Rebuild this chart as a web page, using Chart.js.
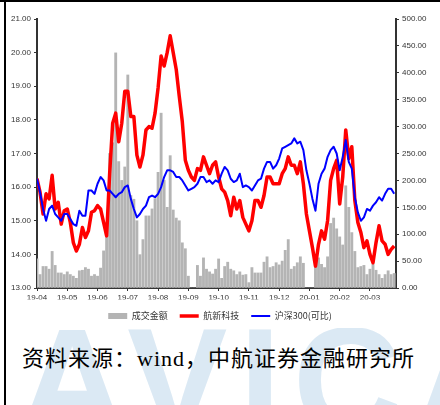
<!DOCTYPE html>
<html>
<head>
<meta charset="utf-8">
<script src="https://cdn.jsdelivr.net/npm/chart.js@4.4.0/dist/chart.umd.min.js"></script>
<style>
    html, body { margin: 0; padding: 0; background: #fff; }
    #page { position: relative; width: 440px; height: 405px; overflow: hidden; background: #fff; }
    #mark { position: absolute; left: 18px; top: 306px; font: bold 150px 'Liberation Sans', sans-serif;
            color: #dbe9f4; letter-spacing: 12px; line-height: 1; white-space: nowrap; }
    #card { position: absolute; left: 10px; top: 10px; width: 422px; height: 318px; background: #fff; }
    #frame-top { position: absolute; left: 0; top: 0; width: 440px; height: 2px; background: #000; }
    #frame-left { position: absolute; left: 4px; top: 0; width: 2px; height: 405px; background: #000; }
    #chart { position: absolute; left: 0; top: 0; }
    #src { position: absolute; left: 22px; top: 340px; font: 22px 'Liberation Serif', 'Noto Sans CJK SC', serif;
           color: #000; letter-spacing: 1px; white-space: nowrap; }
</style>
</head>
<body>
<div id="page">
    <div id="mark">AVICA</div>
    <div id="card"></div>
    <div id="frame-top"></div>
    <div id="frame-left"></div>
    <canvas id="chart" width="440" height="332"></canvas>
    <div id="src">资料来源：wind，中航证券金融研究所</div>
</div>
<script>
(function () {
    'use strict';

    // month ticks, one every 10 samples
    const monthLabels = ['19-04', '19-05', '19-06', '19-07', '19-08', '19-09',
                         '19-10', '19-11', '19-12', '20-01', '20-02', '20-03'];

    // 成交金额 (right axis)
    const amount = [
        54, 25, 40, 40, 35, 68, 42, 28, 28, 25,
        30, 25, 22, 18, 32, 33, 38, 35, 22, 25,
        22, 37, 69, 105, 250, 270, 437, 235, 200, 225,
        396, 172, 165, 125, 62, 90, 134, 134, 147, 166,
        215, 325, 200, 150, 246, 145, 130, 125, 84, 73,
        22, 0, 0, 42, 22, 56, 35, 30, 26, 35,
        54, 18, 40, 48, 35, 32, 25, 30, 24, 25,
        10, 38, 28, 28, 28, 48, 58, 38, 40, 47,
        43, 50, 70, 90, 35, 40, 47, 58, 46, 0,
        0, 0, 42, 56, 44, 38, 58, 120, 130, 110,
        95, 80, 190, 150, 103, 68, 38, 40, 42, 25,
        35, 45, 33, 25, 18, 25, 32, 25, 27
    ];

    // 航新科技 (left axis)
    const hxkj = [
        16.25, 15.85, 15.2, 15.8, 15.65, 16.35, 15.35, 15.55, 14.9, 15.3,
        15.35, 14.95, 14.35, 14.1, 14.3, 14.8, 14.5, 14.7, 15.25, 15.3,
        15.45, 15.35, 14.95, 14.55, 16.4, 17.9, 18.2, 17.35, 17.9, 18.85,
        18.85, 18.1, 18.1, 16.95, 16.6, 16.95, 17.7, 17.8, 17.75, 18.2,
        18.95, 19.9, 19.6, 20.0, 20.5, 20.0, 19.5, 18.7, 17.95, 16.8,
        16.5, 16.3, 16.2, 16.55, 16.5, 16.9, 16.65, 16.4, 16.65, 16.75,
        16.3, 15.95, 15.85, 15.6, 15.15, 15.7, 15.35, 15.6, 15.1, 14.9,
        14.7, 15.0, 15.6, 15.6, 15.4, 15.75, 16.3, 16.3, 16.1, 16.1,
        16.1, 16.4, 16.55, 16.9, 16.65, 16.65, 16.4, 16.75, 16.1, 15.2,
        14.7, 14.2, 13.65, 14.3, 14.7, 14.45, 15.0, 16.2, 16.55, 16.8,
        15.5, 16.3, 17.7, 16.85, 17.2, 15.6, 14.95, 14.65, 14.2, 14.4,
        14.0, 13.75, 14.35, 14.85, 14.4, 14.3, 14.0, 14.15, 14.25
    ];

    // 沪深300(可比) (left axis, rebased)
    const hs300 = [
        16.25, 15.85, 15.35, 15.0, 15.35, 15.45, 15.2, 15.1, 15.0, 15.2,
        15.2, 15.05, 14.9, 14.85, 15.3, 15.15, 15.15, 15.9, 15.9, 15.8,
        16.1, 16.3, 16.2, 15.9, 15.9, 15.8, 15.7, 15.8, 15.85, 16.0,
        16.05, 15.65, 15.35, 15.1, 15.2, 15.35, 15.45, 15.7, 15.75, 15.7,
        15.8, 16.0, 16.3, 16.5, 16.5, 16.45, 16.3, 16.3, 16.2, 16.05,
        15.9, 15.95, 16.0, 16.1, 16.3, 16.3, 16.15, 16.2, 16.1, 16.2,
        16.15, 16.4, 16.6, 16.5, 16.25, 16.15, 16.2, 16.4, 16.0, 16.05,
        16.0, 15.9, 16.05, 16.2, 16.25, 16.55, 16.75, 16.75, 16.55, 16.65,
        16.85, 17.15, 17.2, 17.25, 17.3, 17.45, 17.3, 17.35, 17.1, 16.5,
        16.1, 15.65, 15.3, 16.1, 16.4, 16.55, 16.9, 17.1, 17.2, 17.0,
        16.5, 16.9, 17.4, 16.75, 16.55, 15.7, 15.25, 15.0, 15.1, 15.35,
        15.3, 15.45, 15.55, 15.7, 15.6, 15.8, 15.95, 15.95, 15.8
    ];

    const xIndex = amount.map((_, i) => i);

    const axisColor = '#333';
    const tickFont = { family: 'Liberation Sans', size: 8 };

    new Chart(document.getElementById('chart'), {
        type: 'bar',
        data: {
            labels: xIndex,
            datasets: [
                { type: 'bar', label: '成交金额', data: amount, yAxisID: 'y1', order: 3,
                  backgroundColor: '#b4b4b4', borderWidth: 0, barThickness: 2.2, pointStyle: 'rect' },
                { type: 'line', label: '航新科技', data: hxkj, yAxisID: 'y', order: 2,
                  borderColor: '#ff0000', backgroundColor: '#ff0000', borderWidth: 3.5,
                  pointRadius: 0, tension: 0, borderJoinStyle: 'round', pointStyle: 'line' },
                { type: 'line', label: '沪深300(可比)', data: hs300, yAxisID: 'y', order: 1,
                  borderColor: '#0000ff', backgroundColor: '#0000ff', borderWidth: 2,
                  pointRadius: 0, tension: 0, borderJoinStyle: 'round', pointStyle: 'line' },
            ],
        },
        options: {
            responsive: false,
            animation: false,
            devicePixelRatio: 1,
            layout: { padding: { left: 0, right: 0, top: 19, bottom: 1.5 } },
            plugins: {
                tooltip: { enabled: false },
                legend: {
                    position: 'bottom',
                    labels: {
                        font: { family: 'Noto Sans CJK SC', size: 9 },
                        color: '#333',
                        usePointStyle: true,
                        pointStyleWidth: 19,
                        boxHeight: 6,
                        padding: 12,
                        sort: (a, b) => a.datasetIndex - b.datasetIndex,
                    },
                },
            },
            scales: {
                x: {
                    type: 'linear',
                    min: 0,
                    max: 118.6,
                    offset: false,
                    afterFit: (s) => { s.height = 11.5; },
                    grid: { offset: false, drawOnChartArea: false, tickLength: 3, color: axisColor },
                    border: { color: axisColor, width: 2 },
                    ticks: {
                        stepSize: 10, includeBounds: false, autoSkip: false, maxRotation: 0,
                        padding: 2, font: tickFont, color: axisColor,
                        callback: (v) => (v % 10 === 0 ? monthLabels[v / 10] : ''),
                    },
                },
                y: {
                    position: 'left',
                    min: 13,
                    max: 21,
                    afterFit: (s) => { s.width = 37; },
                    grid: { drawOnChartArea: false, tickLength: 3, color: axisColor },
                    border: { color: axisColor, width: 2 },
                    ticks: { stepSize: 1, padding: 3, font: tickFont, color: axisColor,
                             callback: (v) => v.toFixed(2) },
                },
                y1: {
                    position: 'right',
                    min: 0,
                    max: 500,
                    afterFit: (s) => { s.width = 44; },
                    grid: { drawOnChartArea: false, tickLength: 3, color: axisColor },
                    border: { color: axisColor, width: 2 },
                    ticks: { stepSize: 50, padding: 3, font: tickFont, color: axisColor,
                             callback: (v) => v.toFixed(2) },
                },
            },
        },
    });
})();
</script>
</body>
</html>
